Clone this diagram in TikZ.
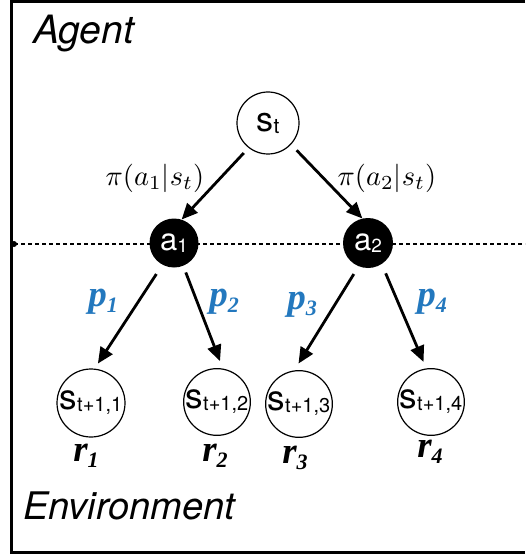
\documentclass[tikz,border=0pt]{standalone}
\usepackage{graphicx}
\usepackage{fontspec}
\setsansfont{TeX Gyre Heros}
\newfontfamily\tms{Liberation Serif}
\usetikzlibrary{arrows.meta}
\definecolor{pblue}{RGB}{35,120,190}
\tikzset{
  state/.style={circle,draw,line width=1.2pt,inner sep=0pt,font=\sffamily},
  act/.style={circle,fill=black,inner sep=0pt,text=white,font=\sffamily},
  conn/.style={line width=2.8pt,-{Triangle[length=16pt,width=14pt]}},
  plab/.style={text=pblue,inner sep=0pt},
  rlab/.style={inner sep=0pt},
  pilab/.style={inner sep=0pt},
  title/.style={inner sep=0pt,anchor=base west,font=\sffamily\itshape}
}
\newcommand{\bigs}[4]{{\fontsize{#1}{#1}\selectfont #4}\raisebox{-2pt}{\fontsize{#2}{#2}\selectfont #3}}
\newcommand{\pr}[2]{{\tms\bfseries\itshape\fontsize{37}{37}\selectfont #1\raisebox{-6pt}{\fontsize{22}{22}\selectfont #2}}}
\begin{document}
\begin{tikzpicture}[x=1pt,y=-1pt]
\useasboundingbox (0,0) rectangle (525,556);
% frame
\draw[line width=3pt] (525,1.5) -- (11.5,1.5) -- (11.5,552) -- (525,552);
% dashed boundary
\coordinate (dl) at (14,244);
\coordinate (dr) at (525,244);
\draw[line width=1.8pt,dash pattern=on 4pt off 3pt] (dl) -- (dr);
\fill (dl) circle (3pt);
% titles
\node[title,font=\sffamily\itshape\fontsize{39}{42}\selectfont] (agent) at (33,44) {Agent};
\node[title,font=\sffamily\itshape\fontsize{38}{42}\selectfont] (env) at (23,519) {Environment};
% nodes
\node[state,minimum size=62pt] (st) at (268,123) {\bigs{34}{21}{t}{s}};
\node[act,minimum size=49pt] (a1) at (174,243) {\bigs{31}{19}{1}{a}};
\node[act,minimum size=50pt] (a2) at (368,243) {\bigs{31}{19}{2}{a}};
\node[state,minimum size=68pt] (c1) at (91,403) {\bigs{35}{20}{t+1,1}{s}};
\node[state,minimum size=65pt] (c2) at (217,402) {\bigs{35}{20}{t+1,2}{s}};
\node[state,minimum size=66pt] (c3) at (299,404) {\bigs{35}{20}{t+1,3}{s}};
\node[state,minimum size=66pt] (c4) at (431,402) {\bigs{35}{20}{t+1,4}{s}};
% connectors
\draw[conn,shorten <=7pt] (st.232) -- (a1.72);
\draw[conn,shorten <=8pt] (st.317) -- (a2.103);
\draw[conn,shorten <=11pt,shorten >=6pt] (a1.242) -- (c1.84);
\draw[conn,shorten <=7pt,shorten >=8pt] (a1.292) -- (c2.80);
\draw[conn,shorten <=9pt,shorten >=8pt] (a2.248) -- (c3.98);
\draw[conn,shorten <=10pt,shorten >=7pt] (a2.303) -- (c4.98);
% labels
\node[pilab] (pi1) at (155,178) {\scalebox{2.85}{$\pi(a_1|s_t)$}};
\node[pilab] (pi2) at (387,178) {\scalebox{2.85}{$\pi(a_2|s_t)$}};
\node[plab] (p1) at (103,302) {\pr{p}{1}};
\node[plab] (p2) at (224,302) {\pr{p}{2}};
\node[plab] (p3) at (302,305) {\pr{p}{3}};
\node[plab] (p4) at (432,302) {\pr{p}{4}};
\node[rlab] (r1) at (86,456) {\pr{r}{1}};
\node[rlab] (r2) at (215,456) {\pr{r}{2}};
\node[rlab] (r3) at (295,458) {\pr{r}{3}};
\node[rlab] (r4) at (430,452) {\pr{r}{4}};
\end{tikzpicture}
\end{document}
